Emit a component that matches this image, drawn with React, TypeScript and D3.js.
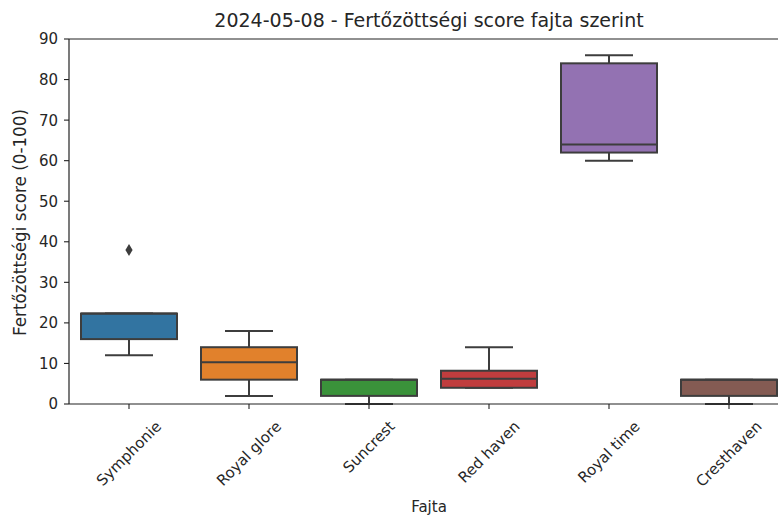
import React, { useEffect, useRef } from "react";
import * as d3 from "d3";

const categories = ["Symphonie", "Royal glore", "Suncrest", "Red haven", "Royal time", "Cresthaven"];
const whiskerLow = [12, 2, 0, 4, 60, 0];
const q1 = [16, 6, 2, 4, 62, 2];
const median = [22.3, 10.3, 6, 6.2, 64, 6];
const q3 = [22.3, 14, 6, 8.2, 84, 6];
const whiskerHigh = [22.3, 18, 6, 14, 86, 6];
const outliers = [[38], [], [], [], [], []];
const colors = ["#3274a1", "#e1812c", "#3a923a", "#c03d3e", "#9372b2", "#845b53"];
const yTicks = [0, 10, 20, 30, 40, 50, 60, 70, 80, 90];

const W = 778;
const H = 517;
const LEFT = 69;
const RIGHT = 789;
const TOP = 39;
const BOTTOM = 404;
const FONT = "DejaVu Sans, sans-serif";
const LINE = "#3d3d3d";
const TICK_FS = 15;
const LABEL_FS = 15;
const YLABEL_FS = 16.8;
const TITLE_FS = 19;

export default function App() {
  const ref = useRef<SVGSVGElement>(null);

  useEffect(() => {
    const svg = d3.select(ref.current);
    svg.selectAll("*").remove();

    const x = d3.scaleBand<string>().domain(categories).range([LEFT, RIGHT]).padding(0);
    const y = d3.scaleLinear().domain([0, 90]).range([BOTTOM, TOP]);
    const bw = x.bandwidth();
    const boxW = bw * 0.8;
    const capW = boxW * 0.5;
    const cx = (c: string) => (x(c) as number) + bw / 2;

    categories.forEach((c, i) => {
      const g = svg.append("g");
      const xc = cx(c);
      g.append("line").attr("x1", xc).attr("x2", xc).attr("y1", y(whiskerLow[i])).attr("y2", y(q1[i]))
        .attr("stroke", LINE).attr("stroke-width", 2);
      g.append("line").attr("x1", xc).attr("x2", xc).attr("y1", y(q3[i])).attr("y2", y(whiskerHigh[i]))
        .attr("stroke", LINE).attr("stroke-width", 2);
      g.append("line").attr("x1", xc - capW / 2).attr("x2", xc + capW / 2).attr("y1", y(whiskerLow[i])).attr("y2", y(whiskerLow[i]))
        .attr("stroke", LINE).attr("stroke-width", 2);
      g.append("line").attr("x1", xc - capW / 2).attr("x2", xc + capW / 2).attr("y1", y(whiskerHigh[i])).attr("y2", y(whiskerHigh[i]))
        .attr("stroke", LINE).attr("stroke-width", 2);
      g.append("rect").attr("x", xc - boxW / 2).attr("width", boxW)
        .attr("y", y(q3[i])).attr("height", y(q1[i]) - y(q3[i]))
        .attr("fill", colors[i]).attr("stroke", LINE).attr("stroke-width", 2);
      g.append("line").attr("x1", xc - boxW / 2).attr("x2", xc + boxW / 2).attr("y1", y(median[i])).attr("y2", y(median[i]))
        .attr("stroke", LINE).attr("stroke-width", 2);
      outliers[i].forEach((v) => {
        const py = y(v);
        g.append("path")
          .attr("d", `M${xc},${py - 6}L${xc + 3.6},${py}L${xc},${py + 6}L${xc - 3.6},${py}Z`)
          .attr("fill", LINE);
      });
    });

    svg.append("line").attr("x1", LEFT).attr("x2", LEFT).attr("y1", TOP).attr("y2", BOTTOM).attr("stroke", "#222").attr("stroke-width", 1.2);
    svg.append("line").attr("x1", LEFT).attr("x2", RIGHT).attr("y1", TOP).attr("y2", TOP).attr("stroke", "#222").attr("stroke-width", 1.2);
    svg.append("line").attr("x1", LEFT).attr("x2", RIGHT).attr("y1", BOTTOM).attr("y2", BOTTOM).attr("stroke", "#222").attr("stroke-width", 1.2);

    const yAxis = svg.append("g");
    yTicks.forEach((t) => {
      yAxis.append("line").attr("x1", LEFT - 5).attr("x2", LEFT).attr("y1", y(t)).attr("y2", y(t)).attr("stroke", "#222").attr("stroke-width", 1.1);
      yAxis.append("text").attr("x", LEFT - 11).attr("y", y(t)).attr("dy", "0.36em")
        .attr("text-anchor", "end").attr("font-family", FONT).attr("font-size", TICK_FS).attr("fill", "#262626").text(String(t));
    });

    categories.forEach((c) => {
      const xc = cx(c);
      svg.append("line").attr("x1", xc).attr("x2", xc).attr("y1", BOTTOM).attr("y2", BOTTOM + 5).attr("stroke", "#222").attr("stroke-width", 1.1);
      const t = svg.append("text").attr("font-family", FONT).attr("font-size", TICK_FS).attr("fill", "#262626")
        .attr("text-anchor", "middle").attr("dominant-baseline", "central").text(c);
      const w = (t.node() as SVGTextElement).getComputedTextLength();
      const h = TICK_FS * 1.1;
      const rh = (w + h) * Math.SQRT1_2;
      const cy = BOTTOM + 14 + rh / 2;
      t.attr("transform", `translate(${xc},${cy}) rotate(-45)`);
    });

    svg.append("text").attr("x", (LEFT + RIGHT) / 2).attr("y", 27).attr("text-anchor", "middle")
      .attr("font-family", FONT).attr("font-size", TITLE_FS).attr("fill", "#262626").text("2024-05-08 - Fertőzöttségi score fajta szerint");
    svg.append("text").attr("x", (LEFT + RIGHT) / 2).attr("y", 512).attr("text-anchor", "middle")
      .attr("font-family", FONT).attr("font-size", LABEL_FS).attr("fill", "#262626").text("Fajta");
    svg.append("text").attr("transform", `translate(26,${(TOP + BOTTOM) / 2 + 1}) rotate(-90)`).attr("text-anchor", "middle")
      .attr("font-family", FONT).attr("font-size", YLABEL_FS).attr("fill", "#262626").text("Fertőzöttségi score (0-100)");
  }, []);

  return (
    <svg ref={ref} width={W} height={H} style={{ position: "absolute", left: 0, top: 0, background: "#fff" }} />
  );
}
